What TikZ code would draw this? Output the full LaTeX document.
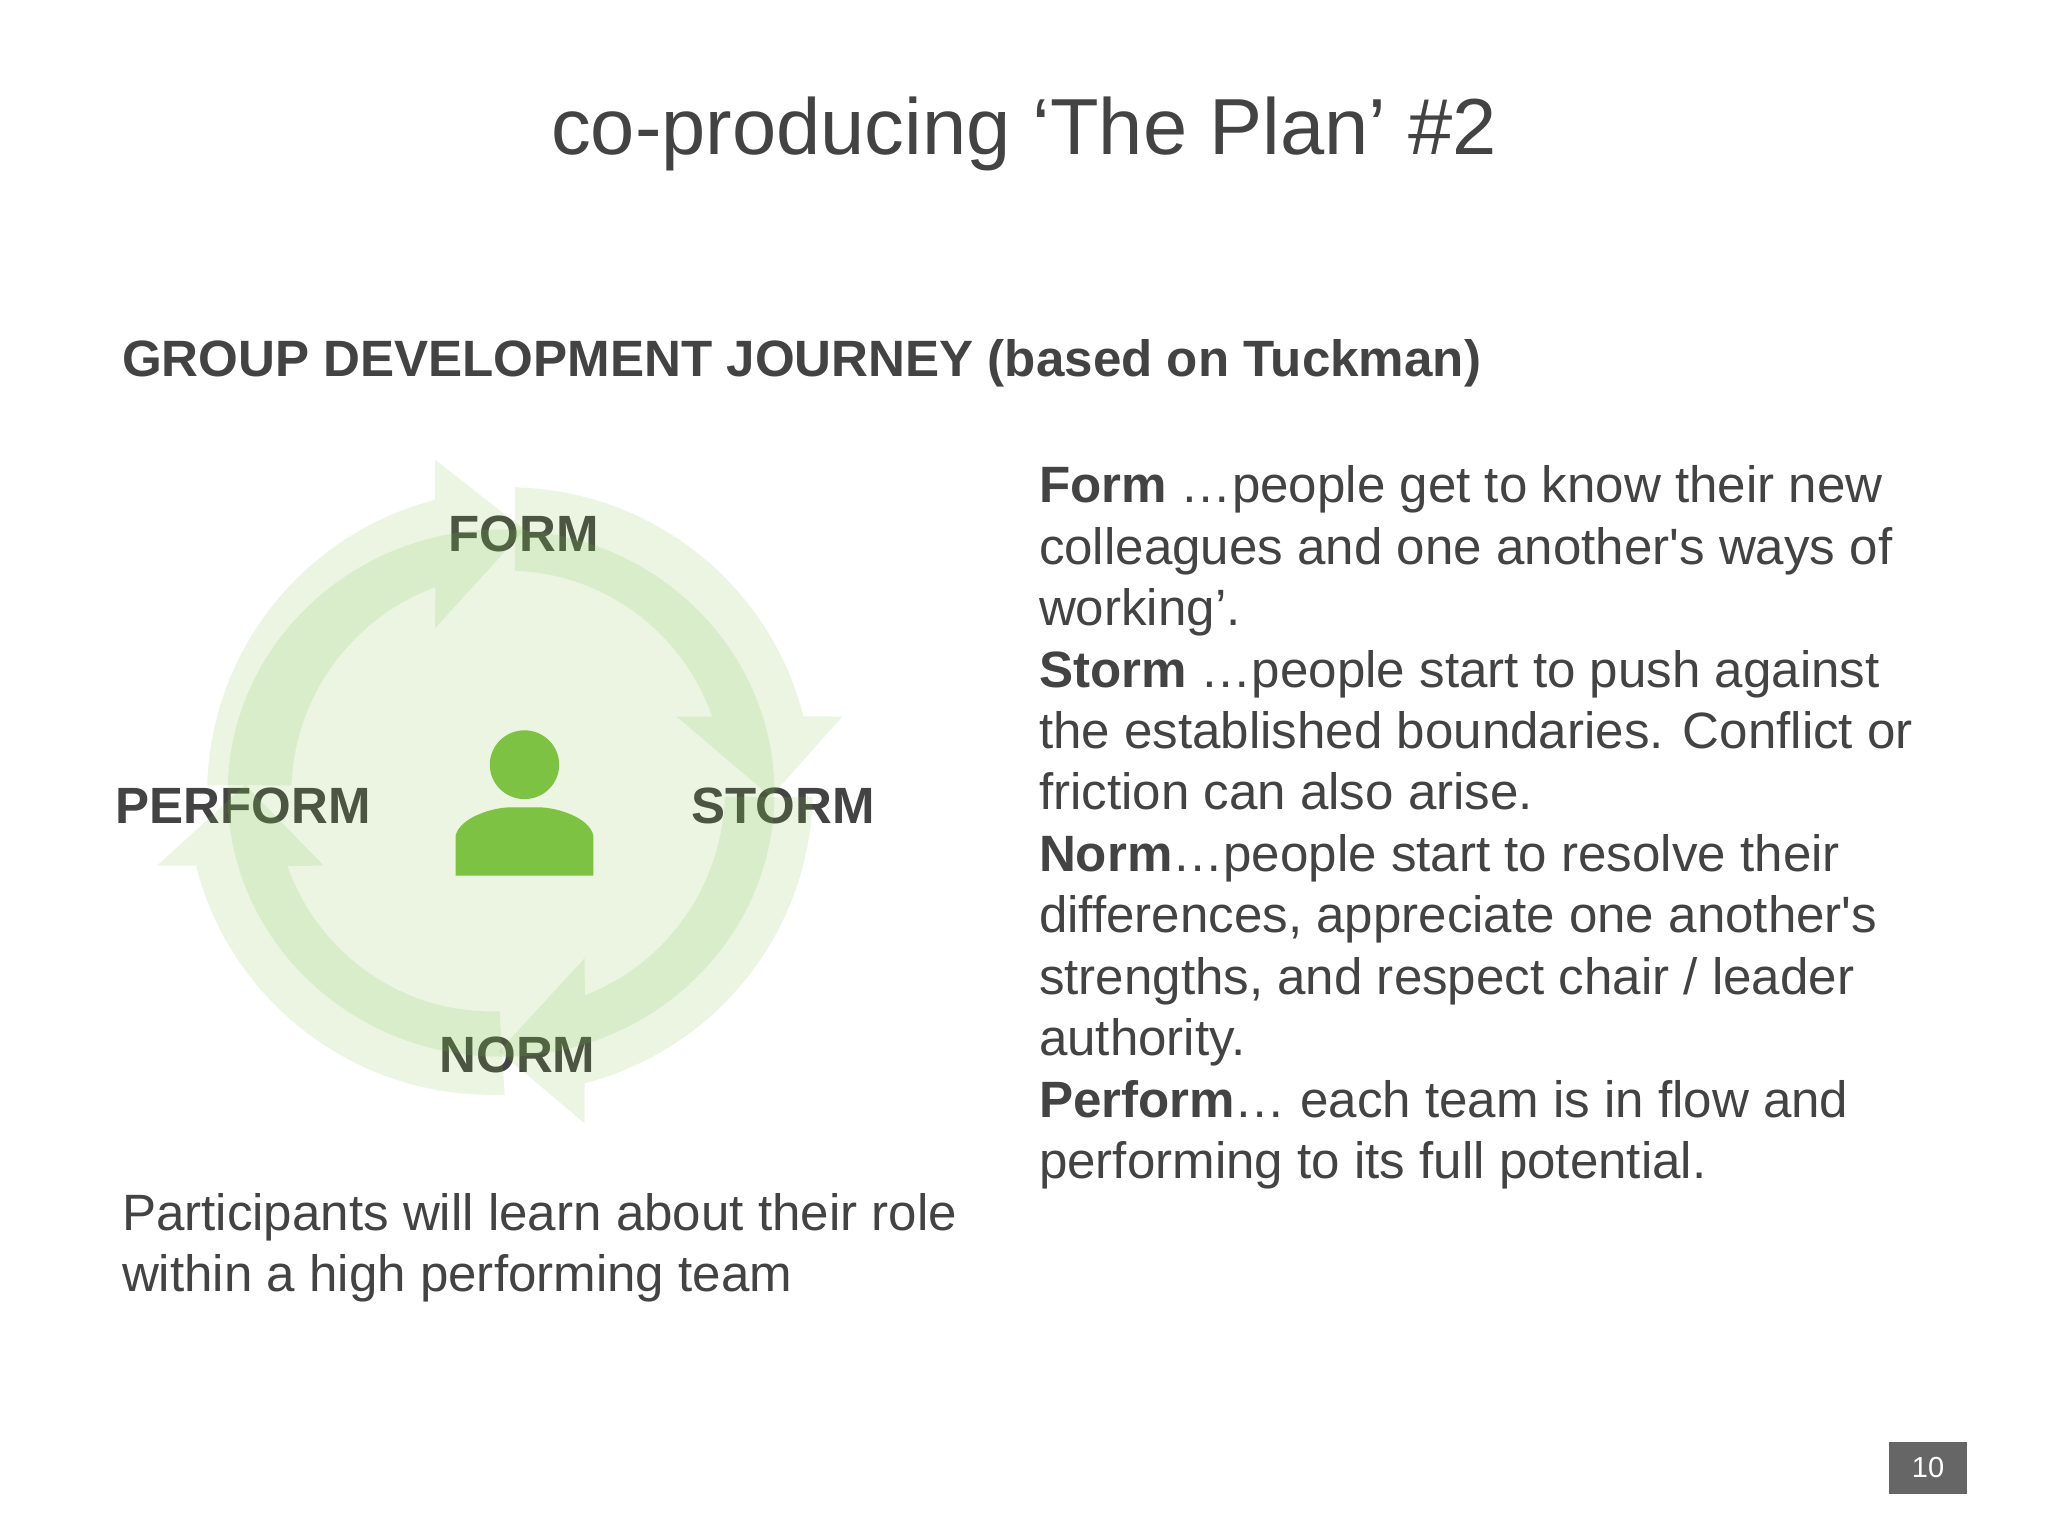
\documentclass[tikz,border=0pt]{standalone}
\usepackage{fontspec}
\newfontfamily\lib{Liberation Sans}
\definecolor{ink}{HTML}{434343}
\definecolor{leaf}{HTML}{7DC242}
\definecolor{pagebox}{HTML}{666666}
\tikzset{
  txt/.style={inner sep=0pt,outer sep=0pt,text=ink,font=\lib\fontsize{51.1}{61.45}\selectfont,align=left,anchor=base west},
  cyclelabel/.style={inner sep=0pt,outer sep=0pt,text=ink,font=\lib\bfseries\fontsize{51}{60}\selectfont,anchor=base},
  band/.style={fill=leaf,fill opacity=0.15,draw=none}
}
\def\Ro{597 and 662}
\def\Ri{425 and 480}
\def\Rj{432 and 480}
\begin{document}
\begin{tikzpicture}[x=1pt,y=1pt]
\useasboundingbox (0,0) rectangle (2048,1536);
\fill[white] (0,0) rectangle (2048,1536);
\node[txt,anchor=base,font=\lib\fontsize{79.5}{90}\selectfont] (title) at (1024,1536-155) {co-producing ‘The Plan’ \#2};
\node[txt,font=\lib\bfseries\fontsize{51.1}{60}\selectfont] (head) at (122,1536-376.5) {GROUP DEVELOPMENT JOURNEY (based on Tuckman)};
\node[txt,anchor=north west] (desc) at (1039,1536-465.7) {\textbf{Form} …people get to know their new\\colleagues and one another's ways of\\working’.\\\textbf{Storm} …people start to push against\\the established boundaries. Conflict or\\friction can also arise.\\\textbf{Norm}…people start to resolve their\\differences, appreciate one another's\\strengths, and respect chair / leader\\authority.\\\textbf{Perform}… each team is in flow and\\performing to its full potential.};
\node[txt,anchor=north west] (part) at (122,1536-1193) {Participants will learn about their role\\within a high performing team};
\node[cyclelabel] (form) at (523.5,1536-552) {FORM};
\node[cyclelabel] (storm) at (783,1536-824) {STORM};
\node[cyclelabel] (norm) at (517.5,1536-1073) {NORM};
\node[cyclelabel] (perform) at (243,1536-824) {PERFORM};
\begin{scope}[shift={(100,1106)},xscale=0.5102,yscale=0.4585]
  % centre disc
  \fill[band] (786,-792) ellipse [x radius=536,y radius=575];
  % form to storm
  \fill[band] ([shift={(800,-787)}]88.75:\Ro) arc[start angle=88.75,end angle=14.2,x radius=597,y radius=662]
    -- (1455,-625) -- (1315,-800) -- (1130,-625)
    -- ([shift={(800,-787)}]19.7:\Ri) arc[start angle=19.7,end angle=88.25,x radius=425,y radius=480] -- cycle;
  % storm to norm
  \fill[band] ([shift={(800,-784)}]-1.4:\Ro) arc[start angle=-1.4,end angle=-75.45,x radius=597,y radius=662]
    -- (950,-1512) -- (782,-1355) -- (950,-1152)
    -- ([shift={(800,-784)}]-69.3:\Ri) arc[start angle=-69.3,end angle=-1.9,x radius=425,y radius=480] -- cycle;
  % norm to perform
  \fill[band] ([shift={(767,-788)}]272.5:\Ro) arc[start angle=272.5,end angle=194.2,x radius=597,y radius=662]
    -- (112,-950) -- (285,-774) -- (438,-950)
    -- ([shift={(767,-788)}]199.9:\Ri) arc[start angle=199.9,end angle=272.2,x radius=425,y radius=480] -- cycle;
  % perform to form
  \fill[band] ([shift={(807,-793)}]178.4:\Ro) arc[start angle=178.4,end angle=104.55,x radius=597,y radius=662]
    -- (657,-65) -- (832,-218) -- (657,-432)
    -- ([shift={(807,-793)}]110.3:\Rj) arc[start angle=110.3,end angle=177.85,x radius=432,y radius=480] -- cycle;
  % person
  \fill[leaf] (832,-730) ellipse [x radius=68,y radius=75];
  \fill[leaf] (697,-972) -- (697,-885) .. controls (705,-845) and (770,-823) .. (805,-823)
    -- (860,-823) .. controls (895,-823) and (960,-845) .. (967,-885) -- (967,-972) -- cycle;
\end{scope}
\node[fill=pagebox,minimum width=78,minimum height=52,inner sep=0pt,outer sep=0pt,text=white,font=\lib\fontsize{29}{34}\selectfont] (page) at (1928,1536-1468) {10};
\end{tikzpicture}
\end{document}
